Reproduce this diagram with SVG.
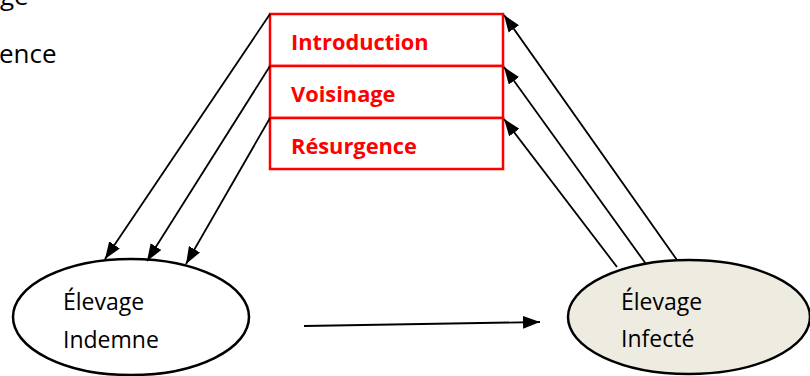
<svg xmlns="http://www.w3.org/2000/svg" width="810" height="376" viewBox="0 0 810 376">
  <style>
    .lbl { font-family: "Open Sans", "Liberation Sans", sans-serif; font-size: 23px; fill: #000; }
    .edge { font-family: "Open Sans", "Liberation Sans", sans-serif; font-size: 26px; fill: #000; }
    .cat { font-family: "Open Sans", "Liberation Sans", sans-serif; font-size: 21.8px; font-weight: bold; fill: #ff0000; }
    .cell { fill: #fff; stroke: #ff0000; stroke-width: 2.5; }
    .farm { stroke: #000; stroke-width: 2.5; }
    .link { stroke: #000; stroke-width: 1.8; fill: none; marker-end: url(#arrow); }
  </style>
  <defs>
    <marker id="arrow" markerUnits="userSpaceOnUse" viewBox="0 0 16 12" refX="16" refY="6" markerWidth="17" markerHeight="13" orient="auto">
      <path d="M0,0 L16,6 L0,12 Z" fill="#000"/>
    </marker>
  </defs>

  <rect width="810" height="376" fill="#fff"/>

  <!-- list fragments at the left edge -->
  <text class="edge" x="0" y="5">ge</text>
  <text class="edge" x="-1" y="63">ence</text>

  <!-- category table -->
  <g id="introduction">
    <rect class="cell" x="270" y="14" width="233" height="52"/>
    <text class="cat" x="291" y="50">Introduction</text>
  </g>
  <g id="voisinage">
    <rect class="cell" x="270" y="66" width="233" height="52"/>
    <text class="cat" x="291" y="102">Voisinage</text>
  </g>
  <g id="resurgence">
    <rect class="cell" x="270" y="118" width="233" height="51"/>
    <text class="cat" x="291" y="154">Résurgence</text>
  </g>

  <!-- farms -->
  <g id="elevage-indemne">
    <ellipse class="farm" cx="131" cy="317" rx="118" ry="58" fill="#fff"/>
    <text class="lbl" x="63" y="310">Élevage</text>
    <text class="lbl" x="63" y="348">Indemne</text>
  </g>
  <g id="elevage-infecte">
    <ellipse class="farm" cx="689" cy="317" rx="121" ry="57" fill="#eeece1"/>
    <text class="lbl" x="621" y="310">Élevage</text>
    <text class="lbl" x="621" y="347">Infecté</text>
  </g>

  <!-- connectors -->
  <g id="connectors">
    <line class="link" x1="270" y1="14" x2="105" y2="259"/>
    <line class="link" x1="270" y1="66" x2="147" y2="261"/>
    <line class="link" x1="270" y1="118" x2="186" y2="264"/>
    <line class="link" x1="677" y1="260" x2="504" y2="15"/>
    <line class="link" x1="646" y1="264" x2="504" y2="67"/>
    <line class="link" x1="617" y1="267" x2="504" y2="119"/>
    <line class="link" x1="304" y1="326" x2="540" y2="322"/>
  </g>
</svg>
